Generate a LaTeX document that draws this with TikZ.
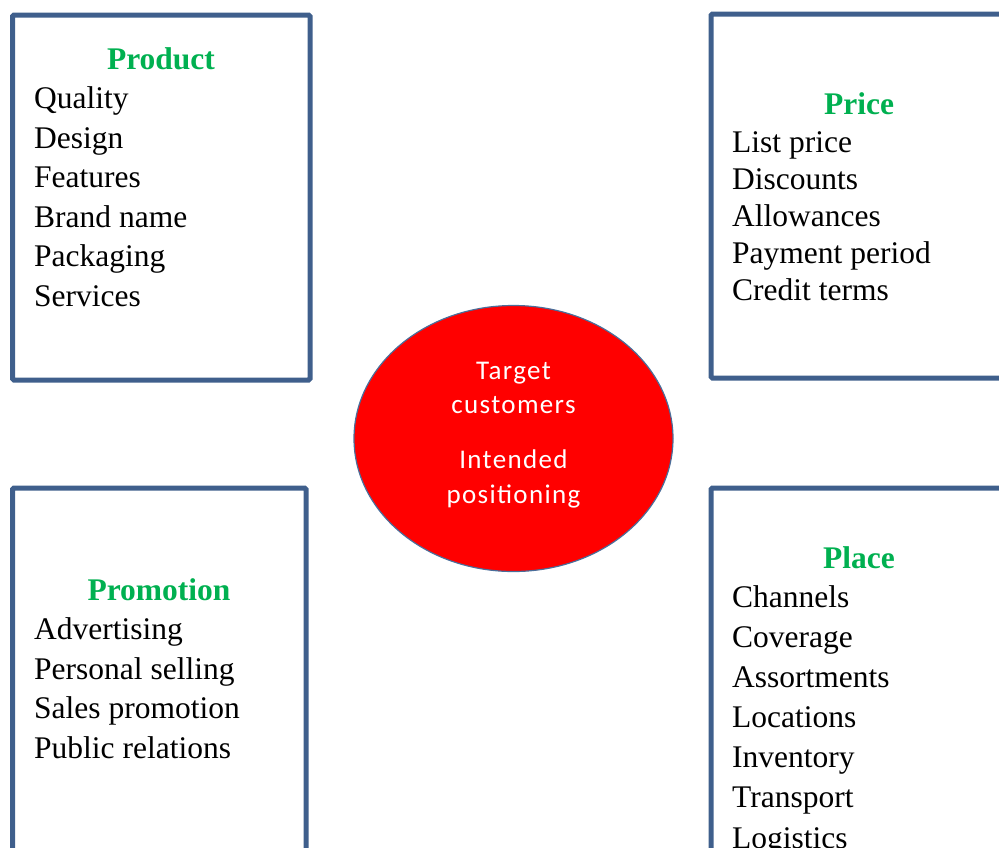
\documentclass[tikz,border=0pt]{standalone}
\usepackage{fontspec}
\setmainfont{Liberation Serif}
\newfontfamily\calibrifont[LetterSpace=5]{Carlito}
\usepackage{tikz}
\usetikzlibrary{positioning,shapes.geometric}
\definecolor{boxblue}{HTML}{3F5F8C}
\definecolor{headgreen}{HTML}{00B050}
\definecolor{rimblue}{HTML}{4A6E9A}

\tikzset{
  mixbox/.style = {draw=boxblue, line width=5pt, rounded corners=1.5pt},
  head/.style   = {font=\fontsize{31.5}{39.5}\selectfont\bfseries, text=headgreen, anchor=base, inner sep=0pt},
  item/.style   = {font=\fontsize{31.5}{39.5}\selectfont, anchor=base west, inner sep=0pt},
  core/.style   = {ellipse, draw=rimblue, line width=1.2pt, fill=red, minimum width=319pt, minimum height=266pt},
  coretext/.style = {font=\calibrifont\fontsize{27}{30}\selectfont, text=white, anchor=base, inner sep=0pt},
}

\begin{document}
\begin{tikzpicture}[x=1pt, y=-1pt]
  \useasboundingbox (0,0) rectangle (999,847);
  \clip (0,0) rectangle (999,847);

  % the four boxes
  \draw[mixbox] (12.5,15) rectangle (310,380);
  \draw[mixbox] (711,14) rectangle (1010,378);
  \draw[mixbox] (12.5,488) rectangle (306,900);
  \draw[mixbox] (711,488) rectangle (1010,900);

  % product
  \node[head] (product) at (161,69) {Product};
  \node[item] (quality)   at (34,108.5) {Quality};
  \node[item] (design)    at (34,148) {Design};
  \node[item] (features)  at (34,187.5) {Features};
  \node[item] (brand)     at (34,227) {Brand name};
  \node[item] (packaging) at (34,266.5) {Packaging};
  \node[item] (services)  at (34,306) {Services};

  % price
  \node[head] (price) at (859,114) {Price};
  \node[item] (list)      at (732,152) {List price};
  \node[item] (discounts) at (732,189) {Discounts};
  \node[item] (allow)     at (732,226) {Allowances};
  \node[item] (payment)   at (732,263) {Payment period};
  \node[item] (credit)    at (732,300) {Credit terms};

  % promotion
  \node[head] (promotion) at (159,600) {Promotion};
  \node[item] (advert)    at (34,639.5) {Advertising};
  \node[item] (personal)  at (34,679) {Personal selling};
  \node[item] (sales)     at (34,718.5) {Sales promotion};
  \node[item] (public)    at (34,758) {Public relations};

  % place
  \node[head] (place) at (859,568) {Place};
  \node[item] (channels)  at (732,607.5) {Channels};
  \node[item] (coverage)  at (732,647.5) {Coverage};
  \node[item] (assort)    at (732,687.5) {Assortments};
  \node[item] (locations) at (732,727.5) {Locations};
  \node[item] (inventory) at (732,767.5) {Inventory};
  \node[item] (transport) at (732,807.5) {Transport};
  \node[item] (logistics) at (732,848) {Logistics};

  % centre
  \node[core] (centre) at (513.5,438.5) {};
  \node[coretext] (target)      at (513.5,379) {Target};
  \node[coretext] (customers)   at (513.5,413) {customers};
  \node[coretext] (intended)    at (513.5,468) {Intended};
  \node[coretext] (positioning) at (513.5,503) {positioning};
\end{tikzpicture}
\end{document}
